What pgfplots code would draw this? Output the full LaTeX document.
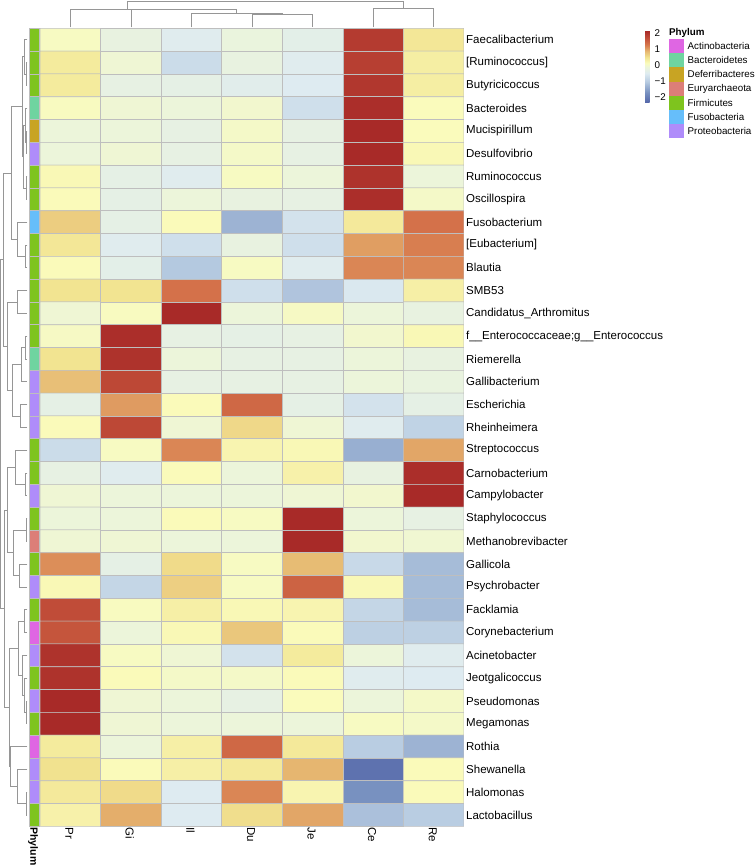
\documentclass[border=0pt]{standalone}
\usepackage{pgfplots}
\pgfplotsset{compat=1.18}
\usepackage{fontspec}
\setmainfont{Liberation Sans}

\definecolor{gridgray}{RGB}{190,190,190}
\definecolor{dendro}{RGB}{150,150,150}
\definecolor{actino}{RGB}{223,102,227}
\definecolor{bactero}{RGB}{111,212,160}
\definecolor{deferri}{RGB}{200,164,35}
\definecolor{eury}{RGB}{220,126,120}
\definecolor{firmi}{RGB}{126,196,30}
\definecolor{fuso}{RGB}{102,190,250}
\definecolor{proteo}{RGB}{175,140,250}

\newcommand{\lab}{\fontsize{11.5bp}{13bp}\selectfont}
\newcommand{\leg}{\fontsize{9.8bp}{11bp}\selectfont}

\pgfplotsset{
  colormap={hm}{rgb255(0)=(82,100,168) rgb255(65)=(120,145,192) rgb255(135)=(185,205,226)
    rgb255(185)=(222,235,241) rgb255(225)=(236,245,218) rgb255(250)=(250,251,188)
    rgb255(285)=(242,228,145) rgb255(325)=(230,182,112) rgb255(365)=(214,118,76)
    rgb255(405)=(195,80,58) rgb255(455)=(165,38,38)},
  dend/.style={draw=dendro, line width=0.8bp, no marks},
}
% one strip cell of the phylum annotation
\newcommand{\phy}[3]{\addplot[fill=#1, draw=gridgray, line width=0.5bp] coordinates {(0,#2) (1,#2) (1,#3) (0,#3)} -- cycle;}

\begin{document}
\begin{tikzpicture}
\path[use as bounding box] (0,0) rectangle (756bp,865bp);

% heatmap
\begin{axis}[
  at={(40bp,38.7bp)}, anchor=south west,
  scale only axis, width=424bp, height=798bp,
  xmin=-0.5, xmax=6.5, ymin=-0.5, ymax=34.5, y dir=reverse,
  enlargelimits=false,
  axis line style={draw=none}, major tick length=0pt,
  xtick={0,...,6}, xticklabels={Pr,Gi,Il,Du,Je,Ce,Re},
  xticklabel style={rotate=-90, anchor=west, font=\lab, inner sep=1bp, yshift=-1bp},
  ytick={0,...,34}, yticklabel pos=right,
  yticklabels={Faecalibacterium,{\relax[Ruminococcus]},Butyricicoccus,Bacteroides,Mucispirillum,
    Desulfovibrio,Ruminococcus,Oscillospira,Fusobacterium,{\relax[Eubacterium]},Blautia,SMB53,
    Candidatus\_Arthromitus,f\_\_Enterococcaceae;g\_\_Enterococcus,Riemerella,Gallibacterium,
    Escherichia,Rheinheimera,Streptococcus,Carnobacterium,Campylobacter,Staphylococcus,
    Methanobrevibacter,Gallicola,Psychrobacter,Facklamia,Corynebacterium,Acinetobacter,
    Jeotgalicoccus,Pseudomonas,Megamonas,Rothia,Shewanella,Halomonas,Lactobacillus},
  yticklabel style={anchor=west, font=\lab, inner sep=1bp, xshift=1bp},
  colormap name=hm, point meta min=-2.35, point meta max=2.2,
  colorbar,
  colorbar style={
    at={(parent axis.north east)}, anchor=north west, xshift=172.5bp, yshift=-2bp,
    scale only axis, width=4.5bp, height=72.7bp,
    axis line style={draw=none}, major tick length=0pt,
    ytick={-2,-1,0,1,2}, yticklabels={−2,−1,0,1,2},
    yticklabel style={font=\leg, inner sep=1bp, anchor=west, xshift=4bp},
  },
]
\addplot[matrix plot*, mesh/cols=7, point meta=explicit, draw=gridgray, line width=0.6bp] coordinates {
(0,0)[0.1] (1,0)[-0.2] (2,0)[-0.45] (3,0)[-0.15] (4,0)[-0.35] (5,0)[1.95] (6,0)[0.45]
(0,1)[0.4] (1,1)[-0.05] (2,1)[-0.75] (3,1)[-0.2] (4,1)[-0.45] (5,1)[1.9] (6,1)[0.35]
(0,2)[0.4] (1,2)[-0.25] (2,2)[-0.3] (3,2)[-0.4] (4,2)[-0.5] (5,2)[2.0] (6,2)[0.35]
(0,3)[0.12] (1,3)[-0.05] (2,3)[-0.1] (3,3)[0.0] (4,3)[-0.7] (5,3)[2.1] (6,3)[0.15]
(0,4)[-0.1] (1,4)[-0.1] (2,4)[-0.25] (3,4)[0.05] (4,4)[-0.25] (5,4)[2.15] (6,4)[0.15]
(0,5)[-0.1] (1,5)[-0.05] (2,5)[-0.25] (3,5)[0.05] (4,5)[-0.25] (5,5)[2.15] (6,5)[0.2]
(0,6)[0.2] (1,6)[-0.3] (2,6)[-0.45] (3,6)[0.1] (4,6)[-0.1] (5,6)[2.05] (6,6)[-0.1]
(0,7)[0.17] (1,7)[-0.3] (2,7)[-0.1] (3,7)[-0.2] (4,7)[-0.25] (5,7)[2.1] (6,7)[0.05]
(0,8)[0.7] (1,8)[-0.3] (2,8)[0.17] (3,8)[-1.3] (4,8)[-0.65] (5,8)[0.42] (6,8)[1.35]
(0,9)[0.45] (1,9)[-0.45] (2,9)[-0.7] (3,9)[-0.2] (4,9)[-0.7] (5,9)[1.05] (6,9)[1.25]
(0,10)[0.17] (1,10)[-0.35] (2,10)[-1.05] (3,10)[0.1] (4,10)[-0.45] (5,10)[1.2] (6,10)[1.2]
(0,11)[0.5] (1,11)[0.5] (2,11)[1.35] (3,11)[-0.7] (4,11)[-1.1] (5,11)[-0.55] (6,11)[0.33]
(0,12)[-0.05] (1,12)[0.12] (2,12)[2.15] (3,12)[-0.1] (4,12)[0.08] (5,12)[-0.1] (6,12)[-0.2]
(0,13)[0.08] (1,13)[2.1] (2,13)[-0.25] (3,13)[-0.3] (4,13)[-0.25] (5,13)[0.0] (6,13)[0.2]
(0,14)[0.5] (1,14)[2.05] (2,14)[-0.1] (3,14)[-0.25] (4,14)[-0.25] (5,14)[-0.1] (6,14)[-0.2]
(0,15)[0.82] (1,15)[1.8] (2,15)[-0.25] (3,15)[-0.25] (4,15)[-0.25] (5,15)[-0.1] (6,15)[-0.18]
(0,16)[-0.3] (1,16)[1.07] (2,16)[0.17] (3,16)[1.45] (4,16)[-0.3] (5,16)[-0.65] (6,16)[-0.3]
(0,17)[0.17] (1,17)[1.8] (2,17)[-0.05] (3,17)[0.6] (4,17)[-0.05] (5,17)[-0.45] (6,17)[-0.9]
(0,18)[-0.75] (1,18)[0.1] (2,18)[1.2] (3,18)[0.25] (4,18)[0.2] (5,18)[-1.35] (6,18)[1.0]
(0,19)[-0.25] (1,19)[-0.45] (2,19)[0.17] (3,19)[-0.1] (4,19)[0.3] (5,19)[-0.2] (6,19)[2.1]
(0,20)[-0.05] (1,20)[-0.1] (2,20)[-0.1] (3,20)[-0.1] (4,20)[-0.05] (5,20)[0.0] (6,20)[2.15]
(0,21)[-0.1] (1,21)[-0.1] (2,21)[0.17] (3,21)[0.1] (4,21)[2.15] (5,21)[-0.1] (6,21)[-0.25]
(0,22)[-0.05] (1,22)[-0.05] (2,22)[-0.1] (3,22)[-0.1] (4,22)[2.15] (5,22)[0.0] (6,22)[-0.03]
(0,23)[1.15] (1,23)[-0.3] (2,23)[0.58] (3,23)[0.1] (4,23)[0.85] (5,23)[-0.8] (6,23)[-1.2]
(0,24)[0.2] (1,24)[-0.85] (2,24)[0.68] (3,24)[0.1] (4,24)[1.5] (5,24)[0.2] (6,24)[-1.2]
(0,25)[1.75] (1,25)[0.12] (2,25)[0.33] (3,25)[0.2] (4,25)[0.25] (5,25)[-0.85] (6,25)[-1.2]
(0,26)[1.65] (1,26)[-0.1] (2,26)[0.2] (3,26)[0.75] (4,26)[0.17] (5,26)[-0.95] (6,26)[-0.95]
(0,27)[2.05] (1,27)[0.1] (2,27)[-0.05] (3,27)[-0.65] (4,27)[0.4] (5,27)[-0.1] (6,27)[-0.45]
(0,28)[2.05] (1,28)[0.17] (2,28)[0.05] (3,28)[0.05] (4,28)[0.17] (5,28)[-0.45] (6,28)[-0.5]
(0,29)[2.15] (1,29)[-0.05] (2,29)[-0.1] (3,29)[-0.25] (4,29)[0.15] (5,29)[-0.1] (6,29)[0.05]
(0,30)[2.15] (1,30)[-0.05] (2,30)[-0.1] (3,30)[-0.1] (4,30)[-0.1] (5,30)[0.1] (6,30)[0.05]
(0,31)[0.4] (1,31)[-0.1] (2,31)[0.33] (3,31)[1.45] (4,31)[0.43] (5,31)[-1.0] (6,31)[-1.3]
(0,32)[0.52] (1,32)[0.17] (2,32)[0.33] (3,32)[0.43] (4,32)[0.9] (5,32)[-2.15] (6,32)[0.17]
(0,33)[0.42] (1,33)[0.58] (2,33)[-0.5] (3,33)[1.2] (4,33)[0.25] (5,33)[-1.7] (6,33)[0.17]
(0,34)[0.3] (1,34)[0.95] (2,34)[-0.5] (3,34)[0.55] (4,34)[1.0] (5,34)[-1.15] (6,34)[-1.0]
};
\end{axis}

% phylum annotation strip
\begin{axis}[
  at={(29bp,38.7bp)}, anchor=south west,
  scale only axis, width=10bp, height=798bp,
  xmin=0, xmax=1, ymin=-0.5, ymax=34.5, y dir=reverse,
  enlargelimits=false, hide axis, clip=false,
]
\phy{firmi}{-0.5}{0.5}
\phy{firmi}{0.5}{1.5}
\phy{firmi}{1.5}{2.5}
\phy{bactero}{2.5}{3.5}
\phy{deferri}{3.5}{4.5}
\phy{proteo}{4.5}{5.5}
\phy{firmi}{5.5}{6.5}
\phy{firmi}{6.5}{7.5}
\phy{fuso}{7.5}{8.5}
\phy{firmi}{8.5}{9.5}
\phy{firmi}{9.5}{10.5}
\phy{firmi}{10.5}{11.5}
\phy{firmi}{11.5}{12.5}
\phy{firmi}{12.5}{13.5}
\phy{bactero}{13.5}{14.5}
\phy{proteo}{14.5}{15.5}
\phy{proteo}{15.5}{16.5}
\phy{proteo}{16.5}{17.5}
\phy{firmi}{17.5}{18.5}
\phy{firmi}{18.5}{19.5}
\phy{proteo}{19.5}{20.5}
\phy{firmi}{20.5}{21.5}
\phy{eury}{21.5}{22.5}
\phy{firmi}{22.5}{23.5}
\phy{proteo}{23.5}{24.5}
\phy{firmi}{24.5}{25.5}
\phy{actino}{25.5}{26.5}
\phy{proteo}{26.5}{27.5}
\phy{firmi}{27.5}{28.5}
\phy{proteo}{28.5}{29.5}
\phy{firmi}{29.5}{30.5}
\phy{actino}{30.5}{31.5}
\phy{proteo}{31.5}{32.5}
\phy{proteo}{32.5}{33.5}
\phy{firmi}{33.5}{34.5}
\node[rotate=-90, anchor=west, font=\bfseries\fontsize{10.5bp}{12bp}\selectfont, inner sep=1bp, yshift=-1bp] at (axis cs:0.5,34.5) {Phylum};
\end{axis}

% row dendrogram: x in pixels, y in rows
\begin{axis}[
  at={(0bp,38.7bp)}, anchor=south west,
  scale only axis, width=28bp, height=798bp,
  xmin=0, xmax=28, ymin=-0.5, ymax=34.5, y dir=reverse,
  enlargelimits=false, hide axis, clip=false,
]
\addplot[dend] coordinates {(27.5,1) (26,1) (26,2) (27.5,2)};
\addplot[dend] coordinates {(27.5,0) (24,0) (24,1.5) (26,1.5)};
\addplot[dend] coordinates {(27.5,4) (26.5,4) (26.5,5) (27.5,5)};
\addplot[dend] coordinates {(27.5,3) (25,3) (25,4.5) (26.5,4.5)};
\addplot[dend] coordinates {(27.5,6) (26,6) (26,7) (27.5,7)};
\addplot[dend] coordinates {(25,3.75) (23.5,3.75) (23.5,6.5) (26,6.5)};
\addplot[dend] coordinates {(24,0.75) (22.5,0.75) (22.5,5.125) (23.5,5.125)};
\addplot[dend] coordinates {(27.5,9) (25,9) (25,10) (27.5,10)};
\addplot[dend] coordinates {(27.5,8) (17,8) (17,9.5) (25,9.5)};
\addplot[dend] coordinates {(22.5,2.9375) (11.7,2.9375) (11.7,8.75) (17,8.75)};
\addplot[dend] coordinates {(27.5,11) (17,11) (17,12) (27.5,12)};
\addplot[dend] coordinates {(27.5,13) (25,13) (25,14) (27.5,14)};
\addplot[dend] coordinates {(25,13.5) (21,13.5) (21,15) (27.5,15)};
\addplot[dend] coordinates {(27.5,16) (20,16) (20,17) (27.5,17)};
\addplot[dend] coordinates {(21,14.25) (12,14.25) (12,16.5) (20,16.5)};
\addplot[dend] coordinates {(17,11.5) (7,11.5) (7,15.375) (12,15.375)};
\addplot[dend] coordinates {(11.7,5.84375) (3,5.84375) (3,13.4375) (7,13.4375)};
\addplot[dend] coordinates {(27.5,19) (25,19) (25,20) (27.5,20)};
\addplot[dend] coordinates {(27.5,18) (15,18) (15,19.5) (25,19.5)};
\addplot[dend] coordinates {(27.5,21) (26,21) (26,22) (27.5,22)};
\addplot[dend] coordinates {(27.5,23) (19,23) (19,24) (27.5,24)};
\addplot[dend] coordinates {(26,21.5) (13,21.5) (13,23.5) (19,23.5)};
\addplot[dend] coordinates {(15,18.75) (7,18.75) (7,22.5) (13,22.5)};
\addplot[dend] coordinates {(27.5,25) (24,25) (24,26) (27.5,26)};
\addplot[dend] coordinates {(27.5,29) (26,29) (26,30) (27.5,30)};
\addplot[dend] coordinates {(27.5,28) (24,28) (24,29.5) (26,29.5)};
\addplot[dend] coordinates {(27.5,27) (22,27) (22,28.75) (24,28.75)};
\addplot[dend] coordinates {(24,25.5) (18,25.5) (18,27.875) (22,27.875)};
\addplot[dend] coordinates {(27.5,33) (26.5,33) (26.5,34) (27.5,34)};
\addplot[dend] coordinates {(27.5,32) (17,32) (17,33.5) (26.5,33.5)};
\addplot[dend] coordinates {(27.5,31) (10,31) (10,32.75) (17,32.75)};
\addplot[dend] coordinates {(18,26.6875) (9,26.6875) (9,31.875) (10,31.875)};
\addplot[dend] coordinates {(7,20.625) (4,20.625) (4,29.28125) (9,29.28125)};
\addplot[dend] coordinates {(3,9.640625) (0.5,9.640625) (0.5,24.953125) (4,24.953125)};
\end{axis}

% column dendrogram and legend, in pixel units of the page
\begin{axis}[
  at={(0bp,0bp)}, anchor=south west,
  scale only axis, width=756bp, height=865bp,
  xmin=0, xmax=756, ymin=0, ymax=865, y dir=reverse,
  enlargelimits=false, hide axis, clip=false,
]
\addplot[dend] coordinates {(252.0,27.5) (252.0,14) (312.6,14) (312.6,27.5)};
\addplot[dend] coordinates {(191.4,27.5) (191.4,13.3) (282.3,13.3) (282.3,14)};
\addplot[dend] coordinates {(130.9,27.5) (130.9,9.5) (236.85,9.5) (236.85,13.3)};
\addplot[dend] coordinates {(70.3,27.5) (70.3,9.0) (183.9,9.0) (183.9,9.5)};
\addplot[dend] coordinates {(373.1,27.5) (373.1,8.3) (433.7,8.3) (433.7,27.5)};
\addplot[dend] coordinates {(127.1,9.0) (127.1,1.7) (403.4,1.7) (403.4,8.3)};

% phylum legend
\node[anchor=west, font=\bfseries\leg, inner sep=0pt] at (axis cs:669,32.5) {Phylum};
\fill[actino]  (axis cs:669,39.0)  rectangle (axis cs:684,53.2);
\fill[bactero] (axis cs:669,53.2)  rectangle (axis cs:684,67.4);
\fill[deferri] (axis cs:669,67.4)  rectangle (axis cs:684,81.6);
\fill[eury]    (axis cs:669,81.6)  rectangle (axis cs:684,95.8);
\fill[firmi]   (axis cs:669,95.8)  rectangle (axis cs:684,110.0);
\fill[fuso]    (axis cs:669,110.0) rectangle (axis cs:684,124.2);
\fill[proteo]  (axis cs:669,124.2) rectangle (axis cs:684,138.4);
\node[anchor=west, font=\leg, inner sep=0pt] at (axis cs:687.5,46.1)  {Actinobacteria};
\node[anchor=west, font=\leg, inner sep=0pt] at (axis cs:687.5,60.3)  {Bacteroidetes};
\node[anchor=west, font=\leg, inner sep=0pt] at (axis cs:687.5,74.5)  {Deferribacteres};
\node[anchor=west, font=\leg, inner sep=0pt] at (axis cs:687.5,88.7)  {Euryarchaeota};
\node[anchor=west, font=\leg, inner sep=0pt] at (axis cs:687.5,102.9) {Firmicutes};
\node[anchor=west, font=\leg, inner sep=0pt] at (axis cs:687.5,117.1) {Fusobacteria};
\node[anchor=west, font=\leg, inner sep=0pt] at (axis cs:687.5,131.3) {Proteobacteria};
\end{axis}
\end{tikzpicture}
\end{document}
